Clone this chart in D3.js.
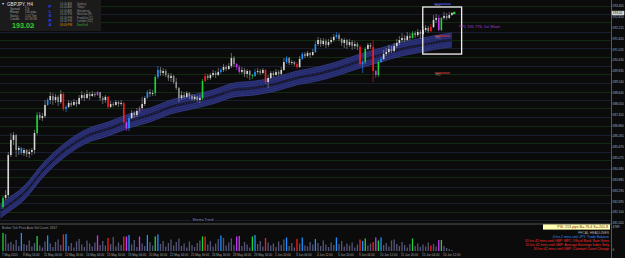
<!DOCTYPE html>
<html><head><meta charset="utf-8">
<script src="https://cdn.jsdelivr.net/npm/d3@7"></script>
<style>html,body{margin:0;padding:0;background:#0a0a0a;overflow:hidden}svg{display:block}</style>
</head><body>
<script>
// ---------------- DATA (GBPJPY, H4) ----------------
const symbol = "GBPJPY, H4";
const firstOpen = 182.38;
const closes = [
182.88,183.04,185.23,186.06,186.33,185.51,185.62,185.34,185.51,185.29,
185.40,185.51,186.44,187.43,187.26,187.37,187.98,188.25,188.47,188.25,
188.42,188.14,188.58,187.76,187.87,188.09,187.98,188.14,188.03,188.36,
188.52,188.36,188.58,188.47,188.58,188.52,188.69,188.36,188.25,188.42,
187.87,188.03,187.98,188.14,188.03,188.09,187.04,186.71,187.26,187.54,
187.43,187.65,187.81,188.03,188.36,188.69,188.58,188.63,189.51,189.90,
189.73,189.84,189.62,189.46,189.57,189.24,188.91,188.36,188.52,188.42,
188.63,188.47,188.31,188.42,188.25,188.36,189.29,189.57,189.46,189.62,
189.73,189.62,189.79,189.90,190.06,189.95,190.11,190.55,190.22,190.06,
189.79,189.90,189.68,189.84,189.62,189.57,189.79,189.84,189.73,189.90,
189.24,189.46,189.73,189.62,189.79,189.68,189.90,190.33,190.55,190.28,
190.33,190.22,190.06,190.50,190.77,190.66,190.83,190.72,190.88,191.32,
191.54,191.32,191.49,191.27,191.43,191.54,191.71,191.81,191.60,191.38,
191.54,191.27,191.43,191.21,191.32,191.16,190.22,190.33,191.05,191.27,
191.16,189.84,189.62,190.33,190.50,190.77,190.88,191.05,190.94,191.21,
191.38,191.54,191.65,191.54,191.76,191.65,191.92,191.81,191.98,191.87,
192.09,192.20,192.03,192.25,192.64,192.75,192.09,192.75,192.86,192.75,
192.91,193.02];
const highs = [
182.99,183.31,185.40,186.44,186.50,186.39,185.73,185.67,185.62,185.56,
185.56,185.62,186.61,187.59,187.59,187.54,188.25,188.36,188.69,188.63,
188.58,188.52,188.80,188.69,187.98,188.25,188.20,188.31,188.25,188.52,
188.74,188.63,188.80,188.69,188.74,188.69,188.74,188.63,188.47,188.52,
188.47,188.20,188.14,188.25,188.20,188.25,188.14,187.10,187.37,187.70,
187.65,187.81,187.92,188.42,188.47,188.80,188.85,188.80,189.62,190.11,
190.06,190.00,189.95,189.73,189.73,189.62,189.46,188.96,188.74,188.69,
188.74,188.69,188.58,188.52,188.47,188.52,189.40,189.73,189.68,189.73,
189.90,189.84,190.00,190.00,190.22,190.17,190.28,190.83,190.66,190.28,
190.17,190.06,190.00,189.95,189.90,189.68,189.95,190.00,189.95,190.00,
189.95,189.62,189.84,189.84,189.95,189.90,190.06,190.55,190.66,190.61,
190.44,190.39,190.33,190.66,190.88,190.88,190.94,190.88,191.05,191.49,
191.71,191.65,191.65,191.60,191.60,191.71,191.87,191.98,191.92,191.65,
191.65,191.60,191.60,191.54,191.49,191.43,191.27,190.44,191.16,191.38,
191.38,191.54,189.90,190.44,190.61,190.99,191.10,191.27,191.21,191.38,
191.60,191.76,191.92,191.81,191.98,191.92,192.03,192.03,192.14,192.09,
192.31,192.36,192.31,192.42,192.91,192.97,192.91,192.80,193.08,193.02,
193.08,193.08];
const lows = [
182.27,182.77,182.88,185.12,185.78,185.12,185.23,185.23,185.18,185.12,
185.07,185.23,185.29,186.33,187.15,187.10,187.26,187.92,188.03,187.98,
188.09,187.92,188.03,187.65,187.59,187.81,187.87,187.92,187.87,187.98,
188.25,188.20,188.31,188.25,188.42,188.42,188.47,188.20,188.03,188.09,
187.76,187.81,187.87,187.92,187.87,187.92,186.93,186.55,186.55,187.21,
187.26,187.32,187.54,187.70,187.92,188.31,188.42,188.47,188.47,189.40,
189.57,189.57,189.51,189.29,189.24,189.13,188.80,188.14,188.25,188.31,
188.36,188.31,188.20,188.20,188.14,188.09,188.25,189.24,189.35,189.35,
189.51,189.46,189.57,189.68,189.79,189.84,189.90,190.00,190.06,189.90,
189.68,189.68,189.51,189.46,189.35,189.40,189.51,189.68,189.62,189.68,
189.13,188.91,189.40,189.51,189.57,189.57,189.62,189.84,190.22,190.17,
190.17,190.11,189.95,190.00,190.44,190.55,190.61,190.55,190.66,190.83,
191.21,191.16,191.21,191.10,191.16,191.32,191.43,191.60,191.49,191.21,
191.10,191.05,191.16,190.99,191.05,190.99,190.11,189.73,190.22,190.99,
191.05,189.24,189.46,189.51,190.28,190.44,190.66,190.77,190.83,190.88,
191.10,191.27,191.43,191.43,191.49,191.54,191.60,191.65,191.71,191.60,
191.81,191.98,191.92,191.98,192.20,192.47,192.03,192.03,192.64,192.64,
192.69,192.86];
// volume-spread class of each bar: G green, B blue, R red, P purple, - plain
const candleTypes =
 "G------B--" + "---G---B--" + "---RB-----" + "------P---" + "R-----RPB-" +
 "--P--B--GB" + "----------" + "------GR--" + "---B-----P" + "P----GB---" +
 "R-------B-" + "--R-B----B" + "-------B--" + "------RBG-" + "-RPGB-----" +
 "------G---" + "---R--PG--" + "--";
const volumes = [
3600,3400,1500,1800,1300,2200,1000,3600,1400,1200,
2100,900,1600,3000,1100,700,1900,3100,1500,800,
1800,2300,1200,3300,3400,1000,1600,700,1900,2400,
1300,800,2100,1500,900,1700,3100,1200,2000,1100,
2600,1400,2800,900,1700,1200,2900,2900,3200,1300,
2200,800,2900,1500,1000,3200,1800,1100,2900,3300,
1400,2000,900,1600,2300,1100,1800,2500,1000,1500,
700,1900,1200,800,1600,2100,2900,2900,1300,2000,
900,1500,2400,3100,2600,1100,1700,2500,1200,2900,
3000,1000,1800,1300,700,2900,3200,1400,2000,900,
2600,1700,1100,1500,800,1900,1200,2300,2700,1000,
1600,700,2400,1500,2700,1100,900,1800,1300,2400,
1600,1000,2100,1300,800,1700,1200,2700,1400,2000,
900,1500,1100,1700,700,1300,2300,2000,2500,1100,
1500,1800,2700,2100,2700,1200,1600,900,2100,2300,
1400,1000,1800,1200,700,1400,2500,1000,1500,800,
1300,900,1700,1100,1400,900,2200,2200,1000,600,
400,200];
const volumeAxisMax = 4789;
// "Shema Trend" moving-average ribbon, centre readings
const maIndex  = [-1,0,8,16,24,32,40,48,56,64,72,80,88,96,104,112,120,128,136,144,152,160,168,171];
const maValues = [182.16,182.27,183.15,184.52,185.56,186.28,186.66,187.10,187.43,187.87,188.14,188.42,188.80,188.91,189.13,189.46,189.68,190.00,190.39,190.72,191.05,191.27,191.49,191.54];
const envelopeOffsets = [0.38, 0.25, 0.12];
const priceTicks = [193.405,192.810,192.215,191.620,191.025,190.430,189.835,189.240,188.645,188.050,
  187.455,186.860,186.265,185.670,185.075,184.480,183.885,183.290,182.695,182.100,181.505];
const levels = [193.405,192.97,192.53,191.98,191.54,191.10,190.61,190.11,189.68,189.18,188.69,188.25,
  187.81,187.32,186.83,186.33,185.89,185.40,184.96,184.47,184.04,183.49,183.04,182.60,182.11,181.65];
const dateIndex = [0,8,16,24,32,40,48,56,64,72,80,88,96,104,112,120,128,136,144,152,160,168];
const dateLabels = ["7 May 2015","8 May 16:00","11 May 04:00","12 May 16:00","14 May 04:00","15 May 16:00",
  "19 May 04:00","20 May 16:00","22 May 04:00","25 May 16:00","26 May 16:00","28 May 04:00","29 May 16:00",
  "1 Jun 20:00","3 Jun 04:00","4 Jun 12:00","5 Jun 20:00","9 Jun 04:00","10 Jun 12:00","11 Jun 20:00",
  "15 Jun 04:00","16 Jun 12:00"];
const currentPrice = 193.02;
const tradeBox = {from:159.9, to:174.7, top:193.35, bottom:190.77};
const stopLevel = {price:193.51, from:164.2, to:170.6, label:"Stop"};
const tpLevels = [{price:191.76, from:164.5, to:170.3, label:"TP1"},{price:189.73, from:164.5, to:170.3, label:"TP2"}];
const tpNote = {text:"TP1  191.776, 1st Short", index:173.6, price:192.18};
const infoRows = [["Spread","2.9"],["Range","145 pips"],["Status","1:32 Tim"],["Candle","02:19:58"]];
const sessions = [["03:40 AM","Sydney"],["03:40 AM","Tokyo"],["03:40 AM","Hongkong"],["03:40 PM","Moscow (B)"],
  ["03:40 PM","Frankfurt (C)"],["03:40 PM","London (DZ)"],["03:40 PM","NewYork"]];
const sideLetters = ["P","L","S","R","A"];
const headlines = [
  {t:"FFCAL HEADLINES", c:"#b4b4b4"},
  {t:"4 hrs 2 mins until JPY: Trade Balance", c:"#3d8cff"},
  {t:"10 hrs 42 mins until GBP: MPC Official Bank Rate Votes", c:"#ff2b2b"},
  {t:"10 hrs 42 mins until GBP: Average Earnings Index 3m/y", c:"#ff2b2b"},
  {t:"10 hrs 42 mins until GBP: Claimant Count Change", c:"#ff2b2b"}];
const swapInfo = "PSI: 213 pips   B=-76.4  S=-201.8";

// ---------------- DRAW ----------------
const font = "'Liberation Sans', Arial, sans-serif";
const svg = d3.select("body").append("svg").attr("width",625).attr("height",258);
svg.append("rect").attr("width",625).attr("height",258).attr("fill","#0b0b0b");

const x = d3.scaleLinear().domain([0,171]).range([3,451.9]);
const y = d3.scaleLinear().domain([181.505,193.405]).range([223,6]);
const v = d3.scaleLinear().domain([0,volumeAxisMax]).range([251,227]);
const typeColor = {G:"#1fd23a", B:"#1e90ff", R:"#ff1a1a", P:"#c23cf0"};

// level lines
svg.append("g").selectAll("line").data(levels).join("line")
  .attr("x1",0).attr("x2",611).attr("y1",d=>Math.round(y(d))+0.5).attr("y2",d=>Math.round(y(d))+0.5)
  .attr("stroke",(d,i)=>i%2?"#1f2740":"#123a12").attr("stroke-width",0.7);

// ribbon
const ma = maIndex.map((i,k)=>({i, v:maValues[k]}));
const outer = envelopeOffsets[0];
const band = svg.append("g");
band.append("path").datum(ma)
  .attr("d", d3.area().x(d=>x(d.i)).y0(d=>y(d.v-outer)).y1(d=>y(d.v+outer)).curve(d3.curveMonotoneX))
  .attr("fill","#252964");
band.append("path").datum(ma)
  .attr("d", d3.area().x(d=>x(d.i)).y0(d=>y(d.v-envelopeOffsets[2])).y1(d=>y(d.v+envelopeOffsets[2])).curve(d3.curveMonotoneX))
  .attr("fill","#1c1f52");
envelopeOffsets.forEach(off=>{
  [off,-off].forEach(o=>{
    band.append("path").datum(ma)
      .attr("d", d3.line().x(d=>x(d.i)).y(d=>y(d.v+o)).curve(d3.curveMonotoneX))
      .attr("fill","none").attr("stroke", off===outer?"#3f49ad":"#343c94").attr("stroke-width",0.6);
  });
});
band.append("path").datum(ma)
  .attr("d", d3.line().x(d=>x(d.i)).y(d=>y(d.v)).curve(d3.curveMonotoneX))
  .attr("fill","none").attr("stroke","#050510").attr("stroke-width",1.2);
band.append("path").datum(ma)
  .attr("d", d3.line().x(d=>x(d.i)).y(d=>y(d.v)).curve(d3.curveMonotoneX))
  .attr("fill","none").attr("stroke","#9a9aae").attr("stroke-width",0.4).attr("stroke-dasharray","0.8,0.8");

// candles
const bars = closes.map((c,i)=>{
  const o = i? closes[i-1] : firstOpen;
  const t = candleTypes[i];
  const col = typeColor[t] || (c>=o? "#d8d8d8" : "#8e8e8e");
  return {i,o,c,h:highs[i],l:lows[i],t,col,vol:volumes[i]};
});
const cg = svg.append("g");
cg.selectAll("line").data(bars).join("line")
  .attr("x1",d=>x(d.i)).attr("x2",d=>x(d.i)).attr("y1",d=>y(d.h)).attr("y2",d=>y(d.l))
  .attr("stroke",d=>d.t!=="-"?d.col:"#a0a0a0").attr("stroke-width",0.6);
cg.selectAll("rect").data(bars).join("rect")
  .attr("x",d=>x(d.i)-0.8).attr("width",1.6)
  .attr("y",d=>y(Math.max(d.o,d.c)))
  .attr("height",d=>Math.max(0.7, Math.abs(y(d.o)-y(d.c))))
  .attr("fill",d=>d.col);

// trade annotations
svg.append("rect").attr("x",x(tradeBox.from)).attr("y",y(tradeBox.top))
  .attr("width",x(tradeBox.to)-x(tradeBox.from)).attr("height",y(tradeBox.bottom)-y(tradeBox.top))
  .attr("fill","none").attr("stroke","#f2f2f2").attr("stroke-width",1.3);
svg.append("line").attr("x1",x(stopLevel.from)).attr("x2",x(stopLevel.to))
  .attr("y1",y(stopLevel.price)).attr("y2",y(stopLevel.price)).attr("stroke","#4a5cff").attr("stroke-width",1);
svg.append("text").attr("x",x(stopLevel.from)+1).attr("y",y(stopLevel.price)+3)
  .attr("font-family",font).attr("font-size",2.6).attr("fill","#9a9a9a").text(stopLevel.label);
tpLevels.forEach(tp=>{
  svg.append("line").attr("x1",x(tp.from)).attr("x2",x(tp.to))
    .attr("y1",y(tp.price)).attr("y2",y(tp.price)).attr("stroke","#e03434").attr("stroke-width",1);
  svg.append("text").attr("x",x(tp.from)+0.5).attr("y",y(tp.price)+3.2)
    .attr("font-family",font).attr("font-size",2.8).attr("fill","#9a9a9a").text(tp.label);
});
svg.append("text").attr("x",x(tpNote.index)).attr("y",y(tpNote.price))
  .attr("font-family",font).attr("font-size",4).attr("fill","#a040d0").text(tpNote.text);
svg.append("rect").attr("x",x(171.5)-0.2).attr("y",y(currentPrice)-1.2).attr("width",2.4).attr("height",2.4).attr("fill","#22dd22");

// "Shema Trend" label
svg.append("rect").attr("x",191).attr("y",217.8).attr("width",24).attr("height",4.6).attr("fill","#0b0b0b");
svg.append("text").attr("x",203).attr("y",221.3).attr("text-anchor","middle")
  .attr("font-family",font).attr("font-size",3.5).attr("fill","#8c8cc0").text("Shema Trend");

// panel separator
svg.append("line").attr("x1",0).attr("x2",611).attr("y1",224).attr("y2",224).attr("stroke","#5e5e5e").attr("stroke-width",0.9);

// volume panel
svg.append("text").attr("x",2).attr("y",229).attr("font-family",font).attr("font-size",3.2)
  .attr("fill","#9a9a9a").text("Broker Tick Price   Auto Vol   Count: 2847");
svg.append("g").selectAll("rect").data(bars).join("rect")
  .attr("x",d=>x(d.i)-0.65).attr("width",1.3)
  .attr("y",d=>v(d.vol)).attr("height",d=>v(0)-v(d.vol))
  .attr("fill",d=>typeColor[d.t]||"#55557a");

// headlines block
svg.append("rect").attr("x",543).attr("y",224.4).attr("width",67).attr("height",5.2).attr("fill","#ffffb4");
svg.append("text").attr("x",608).attr("y",228.4).attr("text-anchor","end")
  .attr("font-family",font).attr("font-size",3.6).attr("fill","#7a2a00").text(swapInfo);
svg.append("g").selectAll("text").data(headlines).join("text")
  .attr("x",609).attr("y",(d,i)=>234.3+i*3.9).attr("text-anchor","end")
  .attr("font-family",font).attr("font-size",3.4).attr("fill",d=>d.c).text(d=>d.t);

// date axis
svg.append("g").selectAll("line").data(dateIndex).join("line")
  .attr("x1",d=>x(d)).attr("x2",d=>x(d)).attr("y1",251.5).attr("y2",253).attr("stroke","#6a6a6a").attr("stroke-width",0.5);
svg.append("g").selectAll("text").data(dateIndex).join("text")
  .attr("x",d=>x(d)-1).attr("y",256.2)
  .attr("font-family",font).attr("font-size",3).attr("fill","#a0a0a0").text((d,k)=>dateLabels[k]);

// right price axis
svg.append("line").attr("x1",611.5).attr("x2",611.5).attr("y1",0).attr("y2",258).attr("stroke","#777").attr("stroke-width",0.7);
const ax = svg.append("g");
ax.selectAll("line").data(priceTicks).join("line")
  .attr("x1",611.5).attr("x2",612.8).attr("y1",d=>y(d)).attr("y2",d=>y(d)).attr("stroke","#888").attr("stroke-width",0.5);
ax.selectAll("text").data(priceTicks).join("text")
  .attr("x",612.6).attr("y",d=>y(d)+1.2).attr("font-family",font).attr("font-size",3.1)
  .attr("fill","#b4b4b4").text(d=>d.toFixed(3));
svg.append("rect").attr("x",611.8).attr("y",y(currentPrice)-2.2).attr("width",12.5).attr("height",4.4).attr("fill","#d6d6d6");
svg.append("text").attr("x",612.8).attr("y",y(currentPrice)+1.2).attr("font-family",font).attr("font-size",3.1)
  .attr("fill","#111").text(currentPrice.toFixed(2));
svg.append("text").attr("x",612.6).attr("y",v(volumeAxisMax)+1.2).attr("font-family",font).attr("font-size",3.1)
  .attr("fill","#b4b4b4").text(volumeAxisMax);
svg.append("text").attr("x",612.6).attr("y",v(0)).attr("font-family",font).attr("font-size",3.1)
  .attr("fill","#b4b4b4").text("0");

// info panel (top-left)
const ip = svg.append("g");
ip.append("rect").attr("x",0).attr("y",0).attr("width",101).attr("height",31).attr("fill","#1b1b1b");
ip.append("text").attr("x",1.5).attr("y",5.2).attr("font-family",font).attr("font-size",4).attr("fill","#ddd").text("▾");
ip.append("text").attr("x",7).attr("y",5.5).attr("font-family",font).attr("font-size",4.6).attr("fill","#e4e4e4").text(symbol);
ip.selectAll("text.row").data(infoRows).join("text").attr("class","row")
  .attr("x",10).attr("y",(d,i)=>9.8+i*3.4).attr("font-family",font).attr("font-size",3)
  .attr("fill","#9c9c9c").text(d=>d[0]);
ip.selectAll("text.val").data(infoRows).join("text").attr("class","val")
  .attr("x",25).attr("y",(d,i)=>9.8+i*3.4).attr("font-family",font).attr("font-size",3)
  .attr("fill","#9c9c9c").text(d=>d[1]);
ip.append("text").attr("x",12).attr("y",27.6).attr("font-family",font).attr("font-size",7.2)
  .attr("font-weight","bold").attr("fill","#2fd02f").text(currentPrice.toFixed(2));
ip.append("text").attr("x",32.5).attr("y",27.4).attr("font-family",font).attr("font-size",3.4)
  .attr("fill","#2fd02f").text("4");
ip.selectAll("text.side").data(sideLetters).join("text").attr("class","side")
  .attr("x",50).attr("y",(d,i)=>8+i*4.6).attr("text-anchor","middle").attr("font-family",font)
  .attr("font-size",4.2).attr("font-weight","bold").attr("fill","#2c46ff").text(d=>d);
ip.selectAll("text.st").data(sessions).join("text").attr("class","st")
  .attr("x",60).attr("y",(d,i)=>5+i*3.45).attr("font-family",font).attr("font-size",2.8)
  .attr("fill",(d,i)=>i===sessions.length-1?"#e08a1e":"#8c8c8c").text(d=>d[0]);
ip.selectAll("text.sc").data(sessions).join("text").attr("class","sc")
  .attr("x",77).attr("y",(d,i)=>5+i*3.45).attr("font-family",font).attr("font-size",2.8)
  .attr("fill",(d,i)=>i===sessions.length-1?"#2eb02e":"#8c8c8c").text(d=>d[1]);
</script>
</body></html>
